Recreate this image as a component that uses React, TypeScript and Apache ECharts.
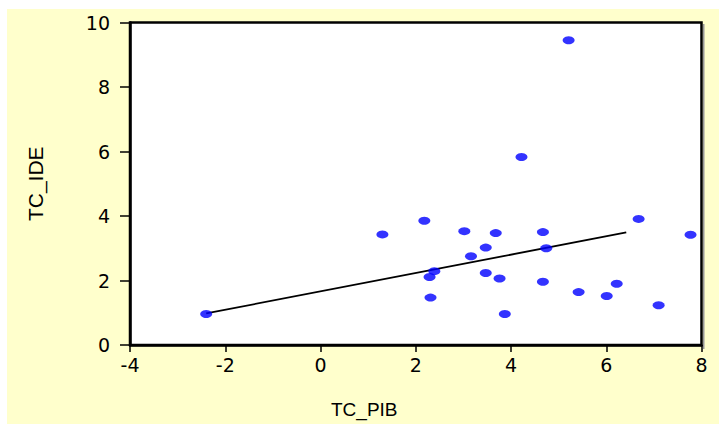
import React, { useEffect, useRef } from "react";
import * as echarts from "echarts";

const xTickLabels = ["-4", "-2", "0", "2", "4", "6", "8"];
const yTickLabels = ["0", "2", "4", "6", "8", "10"];
const tcPib = [-2.40, 1.30, 2.18, 2.29, 2.39, 2.31, 3.02, 3.16, 3.47, 3.47, 3.68, 3.76, 3.87, 4.22, 4.67, 4.74, 4.67, 5.42, 5.21, 6.01, 6.22, 6.68, 7.10, 7.77];
const tcIde = [0.96, 3.43, 3.85, 2.11, 2.29, 1.47, 3.53, 2.75, 3.02, 2.23, 3.47, 2.06, 0.96, 5.83, 3.50, 3.00, 1.96, 1.64, 9.45, 1.52, 1.90, 3.91, 1.23, 3.42];
const fitX = [-2.40, 6.42];
const fitY = [0.98, 3.49];

export default function App() {
  const ref = useRef<HTMLDivElement>(null);
  useEffect(() => {
    if (!ref.current) return;
    const chart = echarts.init(ref.current, null, { renderer: "svg" });
    const font = "'Liberation Sans', Arial, sans-serif";
    chart.setOption({
      animation: false,
      backgroundColor: "#ffffff",
      graphic: [
        { type: "rect", z: -10, silent: true, shape: { x: 7, y: 9, width: 712, height: 415 }, style: { fill: "#FFFFCC" } },
        { type: "rect", z: -9, silent: true, shape: { x: 703, y: 24, width: 1.5, height: 325 }, style: { fill: "#999" } },
      ],
      grid: {
        left: 130,
        right: 17.5,
        top: 22.5,
        bottom: 76,
        show: true,
        backgroundColor: "#ffffff",
        borderColor: "#000",
        borderWidth: 2.5,
      },
      xAxis: {
        type: "value",
        min: -4,
        max: 8,
        interval: 2,
        name: "TC_PIB",
        nameLocation: "middle",
        nameGap: 55,
        nameTextStyle: { fontFamily: font, fontSize: 19, color: "#000", padding: [0, 103, 0, 0] },
        axisLine: { show: true, onZero: false, lineStyle: { color: "#000", width: 2.5 } },
        axisTick: { show: true, length: 7, lineStyle: { color: "#000", width: 1.5 } },
        axisLabel: {
          margin: 10,
          fontFamily: "'DejaVu Sans', sans-serif",
          fontSize: 19,
          color: "#000",
          formatter: (v: number) => xTickLabels[xTickLabels.indexOf(String(v))] ?? String(v),
        },
        splitLine: { show: false },
      },
      yAxis: {
        type: "value",
        min: 0,
        max: 10,
        interval: 2,
        name: "TC_IDE",
        nameLocation: "middle",
        nameGap: 84,
        nameRotate: 90,
        nameTextStyle: { fontFamily: font, fontSize: 21, color: "#000" },
        axisLine: { show: true, onZero: false, lineStyle: { color: "#000", width: 2.5 } },
        axisTick: { show: true, length: 10, lineStyle: { color: "#000", width: 1.5 } },
        axisLabel: {
          margin: 20,
          fontFamily: "'DejaVu Sans', sans-serif",
          fontSize: 19,
          color: "#000",
          formatter: (v: number) => yTickLabels[yTickLabels.indexOf(String(v))] ?? String(v),
        },
        splitLine: { show: false },
      },
      series: [
        {
          type: "line",
          data: fitX.map((x, i) => [x, fitY[i]]),
          symbol: "none",
          lineStyle: { color: "#000", width: 1.8 },
          z: 2,
        },
        {
          type: "scatter",
          data: tcPib.map((x, i) => [x, tcIde[i]]),
          symbol: "circle",
          symbolSize: [12, 8],
          itemStyle: { color: "#0000FF" },
          z: 3,
        },
      ],
    });
    return () => chart.dispose();
  }, []);
  return <div ref={ref} style={{ position: "fixed", left: 0, top: 0, width: 719, height: 424 }} />;
}
